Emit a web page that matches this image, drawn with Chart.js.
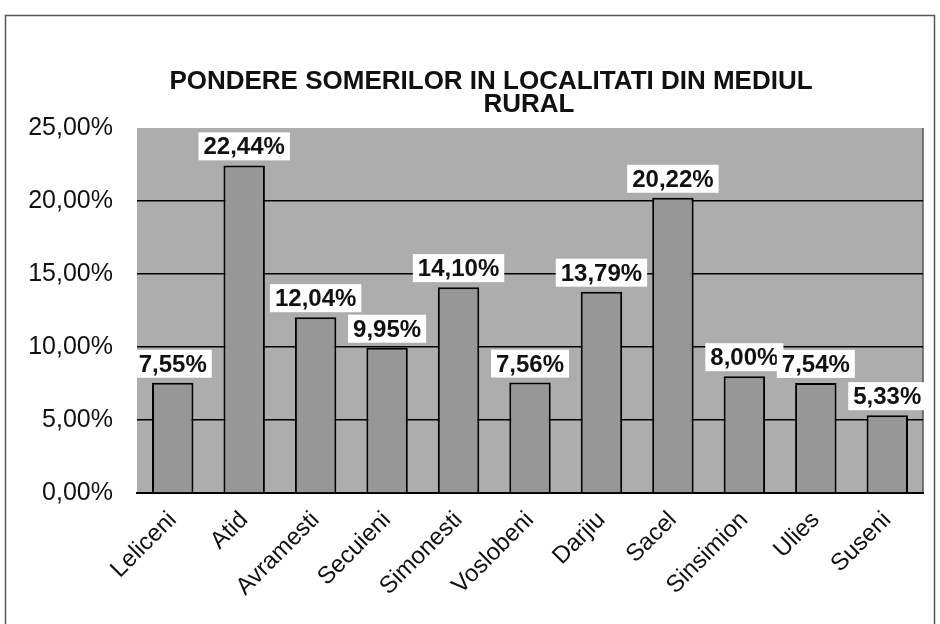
<!DOCTYPE html>
<html>
<head>
<meta charset="utf-8">
<script src="https://cdn.jsdelivr.net/npm/chart.js@4/dist/chart.umd.min.js"></script>
<style>
  html, body { margin: 0; padding: 0; background: #fff; }
  #wrap { width: 940px; height: 624px; }
</style>
</head>
<body>
<div id="wrap"><canvas id="chart" width="940" height="624"></canvas></div>
<script>
// values
const localitati = ['Leliceni', 'Atid', 'Avramesti', 'Secuieni', 'Simonesti', 'Voslobeni',
                    'Darjiu', 'Sacel', 'Sinsimion', 'Ulies', 'Suseni'];
const pondere = [7.55, 22.44, 12.04, 9.95, 14.10, 7.56, 13.79, 20.22, 8.00, 7.54, 5.33];
const yTicks = [0, 5, 10, 15, 20, 25];
const titleLines = ['PONDERE SOMERILOR IN LOCALITATI DIN MEDIUL', 'RURAL'];

const FONT = '"Liberation Sans", Arial, sans-serif';

function procent(v) {
    return v.toFixed(2).replace('.', ',') + '%';
}

// grey plot area, outer frame and the two-line title
const fundal = {
    id: 'fundal',
    beforeDraw(chart) {
        const { ctx, chartArea: a } = chart;
        ctx.save();
        ctx.fillStyle = '#adadad';
        ctx.fillRect(a.left, a.top, a.right - a.left, a.bottom - a.top);
        ctx.strokeStyle = '#555';
        ctx.lineWidth = 1.5;
        ctx.strokeRect(5.5, 15.5, 929, 640);
        ctx.beginPath();
        ctx.moveTo(a.right, a.top);
        ctx.lineTo(a.right, a.bottom);
        ctx.stroke();

        ctx.fillStyle = '#111';
        ctx.font = 'bold 26px ' + FONT;
        ctx.textAlign = 'center';
        ctx.textBaseline = 'alphabetic';
        ctx.fillText(titleLines[0], 491, 89);
        ctx.fillText(titleLines[1], 529, 112);
        ctx.restore();
    }
};

// value labels on white boxes above each bar
const etichete = {
    id: 'etichete',
    afterDatasetsDraw(chart) {
        const { ctx } = chart;
        const meta = chart.getDatasetMeta(0);
        ctx.save();
        ctx.font = 'bold 24px ' + FONT;
        ctx.textAlign = 'center';
        ctx.textBaseline = 'alphabetic';
        meta.data.forEach((bar, i) => {
            const txt = procent(pondere[i]);
            const w = ctx.measureText(txt).width;
            const base = bar.y - 11;
            ctx.fillStyle = '#fff';
            ctx.fillRect(bar.x - w / 2 - 5, base - 22, w + 10, 28);
            ctx.fillStyle = '#111';
            ctx.fillText(txt, bar.x, base);
        });
        ctx.restore();
    }
};

new Chart(document.getElementById('chart'), {
    type: 'bar',
    data: {
        labels: localitati,
        datasets: [{
            data: pondere,
            backgroundColor: '#979797',
            borderColor: '#000',
            borderWidth: 2,
            borderSkipped: 'bottom',
            categoryPercentage: 1,
            barPercentage: 0.58
        }]
    },
    options: {
        responsive: false,
        animation: false,
        layout: { padding: { left: 0, right: 17, top: 128, bottom: 0 } },
        plugins: {
            legend: { display: false },
            tooltip: { enabled: false },
            title: { display: false }
        },
        scales: {
            x: {
                grid: { display: false },
                border: { display: true, color: '#000', width: 2 },
                ticks: {
                    color: '#111',
                    minRotation: 45,
                    maxRotation: 45,
                    padding: 5,
                    font: { family: FONT, size: 24 }
                },
                afterFit(s) { s.height = 131; }
            },
            y: {
                min: 0,
                max: 25,
                afterBuildTicks(s) { s.ticks = yTicks.map(v => ({ value: v })); },
                grid: {
                    drawTicks: false,
                    color: c => (c.tick.value === 0 || c.tick.value === 25) ? 'rgba(0,0,0,0)' : '#000',
                    lineWidth: 1.5
                },
                border: { display: false },
                ticks: {
                    color: '#111',
                    padding: 24,
                    font: { family: FONT, size: 25 },
                    callback: v => procent(v)
                },
                afterFit(s) { s.width = 137; }
            }
        }
    },
    plugins: [fundal, etichete]
});
</script>
</body>
</html>
